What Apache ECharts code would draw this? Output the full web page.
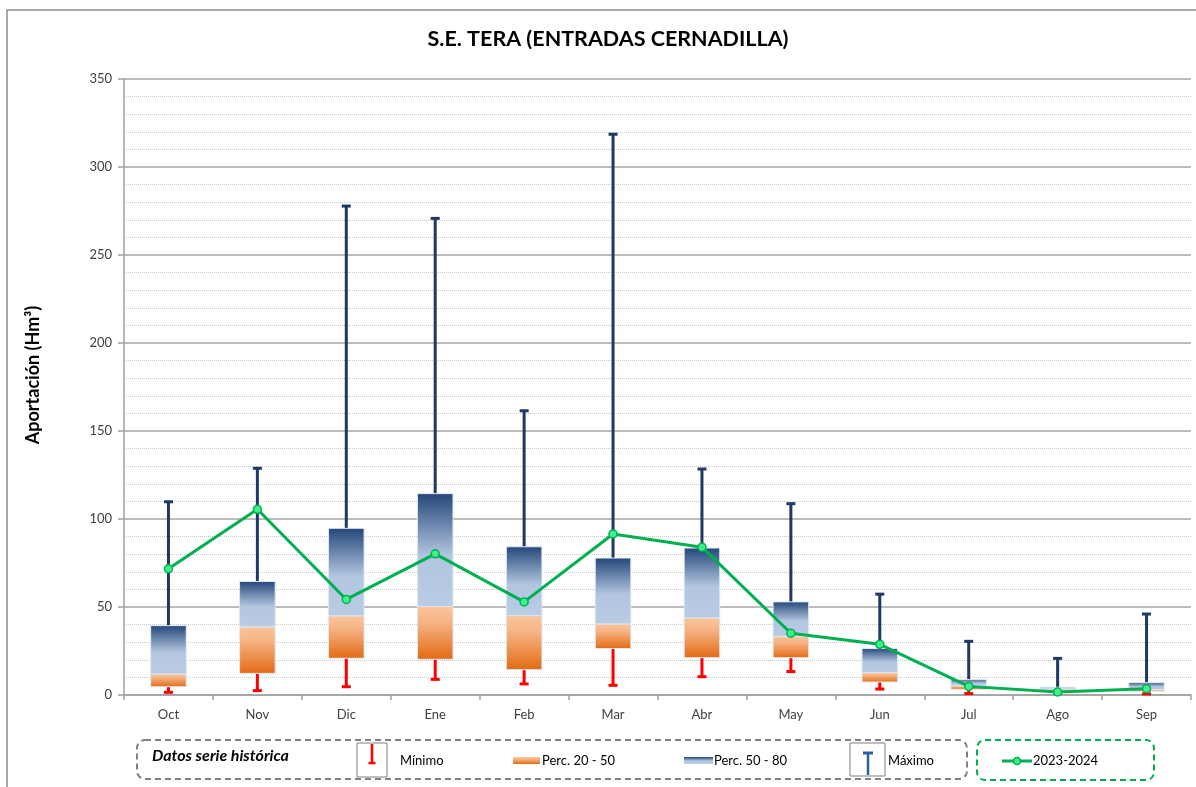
<!DOCTYPE html>
<html>
<head>
<meta charset="utf-8">
<title>S.E. TERA (ENTRADAS CERNADILLA)</title>
<script src="https://cdn.jsdelivr.net/npm/echarts@6.0.0/dist/echarts.min.js"></script>
<style>
  html, body { margin: 0; padding: 0; background: #fff; }
  #chart { width: 1196px; height: 787px; }
</style>
</head>
<body>
<div id="chart"></div>
<script>
// datos (Hm3)
const meses = ['Oct', 'Nov', 'Dic', 'Ene', 'Feb', 'Mar', 'Abr', 'May', 'Jun', 'Jul', 'Ago', 'Sep'];
const minimo = [1.5, 2.5, 4.7, 8.9, 6.3, 5.5, 10.4, 13.3, 3.4, 0.8, 1.2, 0.6];
const perc20 = [4.7, 12.3, 20.9, 20.3, 14.4, 26.4, 21.2, 21.2, 7.4, 3.2, 2.3, 2.1];
const perc50 = [12.0, 38.7, 45.0, 50.3, 45.1, 40.4, 43.8, 33.2, 12.7, 5.3, 3.4, 3.0];
const perc80 = [39.4, 64.5, 94.7, 114.4, 84.2, 77.8, 83.5, 52.9, 26.4, 8.7, 4.4, 7.0];
const maximo = [109.8, 128.8, 277.8, 270.8, 161.5, 318.6, 128.4, 108.7, 57.3, 30.5, 20.8, 46.0];
const actual = [71.7, 105.5, 54.3, 80.2, 52.9, 91.5, 84.0, 35.1, 28.8, 4.9, 1.7, 3.6];
const yTicks = [0, 50, 100, 150, 200, 250, 300, 350];

const FONT = 'Lato, "Open Sans", sans-serif';

function blueGrad() {
  return new echarts.graphic.LinearGradient(0, 0, 0, 1, [
    { offset: 0, color: '#234679' },
    { offset: 0.55, color: '#b3c6e0' },
    { offset: 1, color: '#b8cce4' }
  ]);
}
function orangeGrad() {
  return new echarts.graphic.LinearGradient(0, 0, 0, 1, [
    { offset: 0, color: '#fac59b' },
    { offset: 0.3, color: '#f6b485' },
    { offset: 1, color: '#e36a12' }
  ]);
}

// caja entre dos valores
function boxRender(gradFn) {
  return function (params, api) {
    const i = api.value(0);
    const lo = api.coord([i, api.value(1)]);
    const hi = api.coord([i, api.value(2)]);
    const w = api.size([1, 0])[0] * 0.4;
    return {
      type: 'rect',
      shape: { x: lo[0] - w / 2, y: hi[1], width: w, height: lo[1] - hi[1] },
      style: { fill: gradFn(), stroke: '#dfe8f3', lineWidth: 1 }
    };
  };
}

// bigote con tope en el segundo valor
function whiskerRender(color) {
  return function (params, api) {
    const i = api.value(0);
    const a = api.coord([i, api.value(1)]);
    const b = api.coord([i, api.value(2)]);
    return {
      type: 'group',
      children: [
        { type: 'line', shape: { x1: a[0], y1: a[1], x2: b[0], y2: b[1] }, style: { stroke: color, lineWidth: 3 } },
        { type: 'line', shape: { x1: b[0] - 4.5, y1: b[1], x2: b[0] + 4.5, y2: b[1] }, style: { stroke: color, lineWidth: 3 } }
      ]
    };
  };
}

const minData = meses.map((m, i) => [i, perc20[i], minimo[i]]);
const maxData = meses.map((m, i) => [i, perc80[i], maximo[i]]);
const p2050 = meses.map((m, i) => [i, perc20[i], perc50[i]]);
const p5080 = meses.map((m, i) => [i, perc50[i], perc80[i]]);

const chart = echarts.init(document.getElementById('chart'));
chart.setOption({
  animation: false,
  textStyle: { fontFamily: FONT },
  grid: { left: 124, right: 5, top: 79, bottom: 92 },
  xAxis: {
    type: 'category',
    data: meses,
    axisLine: { lineStyle: { color: '#a0a0a0', width: 1.5 } },
    axisTick: { show: true, length: 5, lineStyle: { color: '#a0a0a0', width: 1.5 } },
    axisLabel: { color: '#404040', fontSize: 13, margin: 13, fontFamily: FONT }
  },
  yAxis: {
    type: 'value',
    min: yTicks[0],
    max: yTicks[yTicks.length - 1],
    interval: 50,
    axisLine: { show: true, lineStyle: { color: '#a0a0a0', width: 1.5 } },
    axisTick: { show: true, length: 6, lineStyle: { color: '#a0a0a0', width: 1.5 } },
    axisLabel: { color: '#404040', fontSize: 13, margin: 12, fontFamily: FONT },
    splitLine: { lineStyle: { color: '#a6a6a6', width: 1.5 } },
    minorTick: { show: false, splitNumber: 5 },
    minorSplitLine: { show: true, lineStyle: { color: '#c8c8c8', type: 'dotted', width: 1 } }
  },
  series: [
    { name: 'Máximo', type: 'custom', renderItem: whiskerRender('#1f3864'), data: maxData, encode: { x: 0, y: [1, 2] }, z: 2 },
    { name: 'Mínimo', type: 'custom', renderItem: whiskerRender('#ff0000'), data: minData, encode: { x: 0, y: [1, 2] }, z: 2 },
    { name: 'Perc. 20 - 50', type: 'custom', renderItem: boxRender(orangeGrad), data: p2050, encode: { x: 0, y: [1, 2] }, z: 3 },
    { name: 'Perc. 50 - 80', type: 'custom', renderItem: boxRender(blueGrad), data: p5080, encode: { x: 0, y: [1, 2] }, z: 3 },
    {
      name: '2023-2024',
      type: 'line',
      data: actual,
      z: 5,
      symbol: 'circle',
      symbolSize: 8,
      lineStyle: { color: '#00b050', width: 3 },
      itemStyle: { color: '#3cf08c', borderColor: '#00b050', borderWidth: 1.5 }
    }
  ],
  graphic: [
    { type: 'rect', silent: true, z: -10, shape: { x: 7, y: 10, width: 1210, height: 800 }, style: { fill: 'none', stroke: '#8c8c8c', lineWidth: 1.5 } },
    // titulo y nombre del eje
    { type: 'text', x: 608, y: 39, style: { text: 'S.E. TERA (ENTRADAS CERNADILLA)', font: 'bold 21.5px ' + FONT, fill: '#000', textAlign: 'center', textVerticalAlign: 'middle' } },
    { type: 'text', x: 33, y: 375, rotation: Math.PI / 2, style: { text: 'Aportación (Hm³)', font: 'bold 18px ' + FONT, fill: '#000', textAlign: 'center', textVerticalAlign: 'middle' } },
    // leyenda
    { type: 'rect', shape: { x: 137, y: 740, width: 830, height: 39, r: 8 }, style: { fill: 'none', stroke: '#808080', lineWidth: 2, lineDash: [6, 4] } },
    { type: 'text', x: 152, y: 756, style: { text: 'Datos serie histórica', font: 'italic bold 16px ' + FONT, fill: '#000', textVerticalAlign: 'middle' } },
    { type: 'rect', shape: { x: 357, y: 743, width: 30, height: 34 }, style: { fill: '#fff', stroke: '#7f7f7f', lineWidth: 1 } },
    { type: 'line', shape: { x1: 372, y1: 744, x2: 372, y2: 763 }, style: { stroke: '#ff0000', lineWidth: 2.5 } },
    { type: 'line', shape: { x1: 368.5, y1: 763, x2: 375.5, y2: 763 }, style: { stroke: '#ff0000', lineWidth: 2.5 } },
    { type: 'text', x: 400, y: 761, style: { text: 'Mínimo', font: '13px ' + FONT, fill: '#000', textVerticalAlign: 'middle' } },
    { type: 'rect', shape: { x: 513, y: 757, width: 27, height: 7 }, style: { fill: orangeGrad() } },
    { type: 'text', x: 542, y: 761, style: { text: 'Perc. 20 - 50', font: '13px ' + FONT, fill: '#000', textVerticalAlign: 'middle' } },
    { type: 'rect', shape: { x: 684, y: 757, width: 29, height: 7 }, style: { fill: blueGrad() } },
    { type: 'text', x: 714, y: 761, style: { text: 'Perc. 50 - 80', font: '13px ' + FONT, fill: '#000', textVerticalAlign: 'middle' } },
    { type: 'rect', shape: { x: 850, y: 743, width: 35, height: 33 }, style: { fill: '#fff', stroke: '#7f7f7f', lineWidth: 1 } },
    { type: 'line', shape: { x1: 868, y1: 753, x2: 868, y2: 775 }, style: { stroke: '#2e5f9e', lineWidth: 2.5 } },
    { type: 'line', shape: { x1: 863, y1: 753, x2: 873, y2: 753 }, style: { stroke: '#2e5f9e', lineWidth: 3 } },
    { type: 'text', x: 888, y: 761, style: { text: 'Máximo', font: '13px ' + FONT, fill: '#000', textVerticalAlign: 'middle' } },
    { type: 'rect', shape: { x: 977, y: 740, width: 177, height: 40, r: 8 }, style: { fill: 'none', stroke: '#00b050', lineWidth: 2, lineDash: [6, 4] } },
    { type: 'line', shape: { x1: 1002, y1: 761, x2: 1032, y2: 761 }, style: { stroke: '#00b050', lineWidth: 3 } },
    { type: 'circle', shape: { cx: 1017, cy: 761, r: 3.5 }, style: { fill: '#3cf08c', stroke: '#00b050', lineWidth: 1.5 } },
    { type: 'text', x: 1033, y: 761, style: { text: '2023-2024', font: '13px ' + FONT, fill: '#000', textVerticalAlign: 'middle' } }
  ]
});
</script>
</body>
</html>
